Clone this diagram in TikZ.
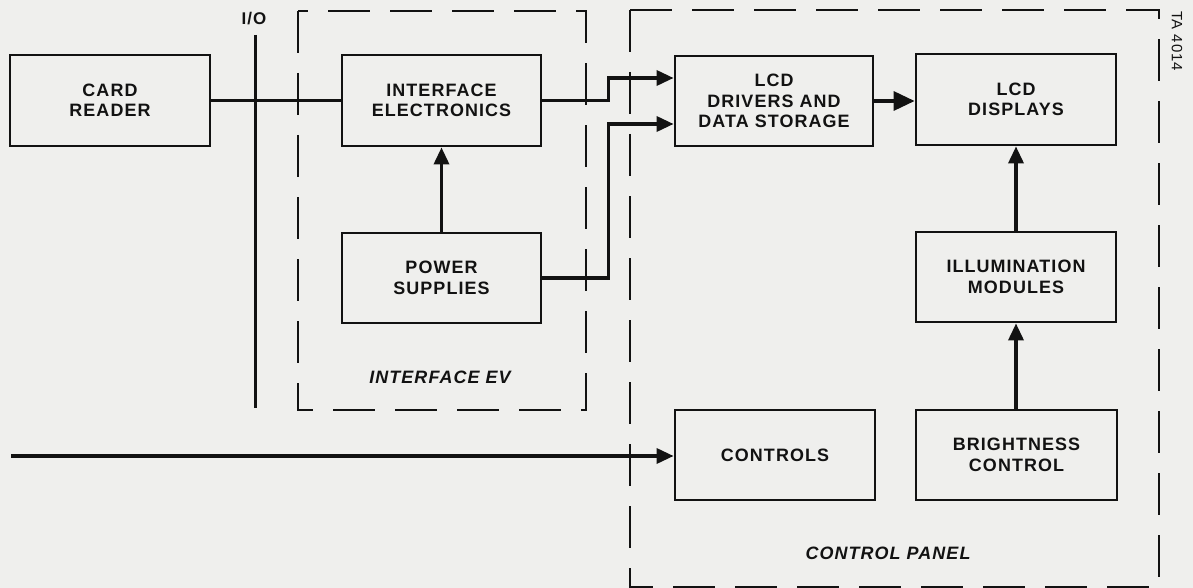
\documentclass[tikz,border=0pt]{standalone}
\usepackage{fontspec}
\setmainfont{Liberation Sans}[LetterSpace=6]
\usetikzlibrary{arrows.meta,calc}
\definecolor{ink}{HTML}{121212}
\definecolor{paper}{HTML}{EFEFED}
\begin{document}
\begin{tikzpicture}[x=1bp,y=-1bp,
  blk/.style={draw=ink, line width=2.8bp, minimum width=200bp, minimum height=91bp,
    inner sep=0pt, align=center, text=ink, font=\bfseries\fontsize{18}{20.5}\selectfont},
  conn/.style={draw=ink, line width=3.4bp},
  arr/.style={conn, -{Triangle[length=17bp,width=15bp]}},
  bigarr/.style={conn, -{Triangle[length=21bp,width=19bp]}},
  grp/.style={draw=ink, line width=2.8bp, dash pattern=on 42bp off 20bp},
  grplabel/.style={text=ink, font=\bfseries\itshape\fontsize{18}{20}\selectfont}]
% background
\fill[paper] (0,0) rectangle (1193,588);
\useasboundingbox (0,0) rectangle (1193,588);
% groups
\draw[grp] (298,11) rectangle (586,410);
\draw[grp] (630,10) rectangle (1159,587);
\node[grplabel] (lev) at (440,377) {INTERFACE EV};
\node[grplabel] (lcp) at (888,553) {CONTROL PANEL};
% I/O line
\node[text=ink, font=\bfseries\fontsize{17}{19}\selectfont] (io) at (254,19) {I/O};
\coordinate (iotop) at (255,35);
\coordinate (iobot) at (255,408);
\draw[conn, line width=3bp] (iotop) -- (iobot);
% blocks
\node[blk] (cr) at (110,100.5) {CARD\\READER};
\node[blk, minimum width=199bp] (ie) at (441.5,100.5) {INTERFACE\\ELECTRONICS};
\node[blk, minimum width=199bp, minimum height=90bp] (ps) at (441.5,278) {POWER\\SUPPLIES};
\node[blk, minimum width=198bp, minimum height=90bp] (dr) at (774,101) {LCD\\DRIVERS AND\\DATA STORAGE};
\node[blk] (ld) at (1016,99.5) {LCD\\DISPLAYS};
\node[blk, minimum height=90bp] (il) at (1016,277) {ILLUMINATION\\MODULES};
\node[blk, minimum height=90bp] (ct) at (775,455) {CONTROLS};
\node[blk, minimum width=201bp, minimum height=90bp] (bc) at (1016.5,455) {BRIGHTNESS\\CONTROL};
% connectors
\draw[conn] (cr.east) -- (ie.west);
\draw[arr] (ps.north) -- (ie.south);
\draw[arr] (ie.east) -- ++(66,0) |- ([yshift=23bp]dr.west);
\draw[arr] (ps.east) -- ++(66,0) |- ([yshift=-23bp]dr.west);
\draw[bigarr] (dr.east) -- (dr.east -| ld.west);
\draw[arr] (il.north) -- (ld.south);
\draw[arr] (il.south |- bc.north) -- (il.south);
\coordinate (cin) at (11,456);
\draw[arr] (cin) -- (cin -| ct.west);
% figure number
\node[rotate=-90, text=ink, font=\fontsize{15}{17}\selectfont] (ta) at (1177,41) {TA 4014};
\end{tikzpicture}
\end{document}
